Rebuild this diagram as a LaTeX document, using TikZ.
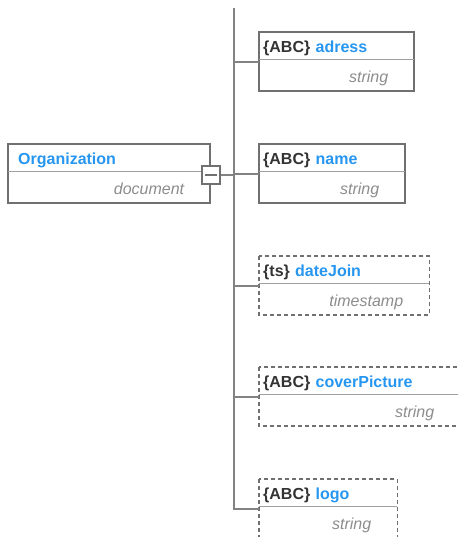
\documentclass[tikz,border=0pt]{standalone}
\usepackage{fontspec}
\setmainfont{Liberation Sans}
\usetikzlibrary{positioning}

\definecolor{fieldblue}{RGB}{38,150,240}
\definecolor{tagdark}{RGB}{51,51,51}
\definecolor{typegray}{RGB}{140,140,140}
\definecolor{framegray}{RGB}{112,112,112}
\definecolor{rulegray}{RGB}{160,160,160}
\definecolor{wiregray}{RGB}{130,130,130}

\newcommand\fieldhead[2]{\textcolor{tagdark}{\{#1\}} \textcolor{fieldblue}{#2}}

\begin{document}
\begin{tikzpicture}[x=1pt,y=-1pt,
  head/.style={anchor=north west,inner xsep=4pt,inner ysep=0pt,text height=20pt,text depth=7pt,align=left,font=\fontsize{16}{19}\selectfont\bfseries},
  body/.style={inner xsep=26pt,inner ysep=0pt,text height=23pt,text depth=8pt,align=right,text=typegray,font=\fontsize{16}{19}\selectfont\itshape},
  frame/.style={draw=framegray,line width=2pt},
  optional/.style={frame,line width=1.7pt,dash pattern=on 4pt off 3pt},
  divider/.style={draw=rulegray,line width=1.6pt},
  wire/.style={draw=wiregray,line width=2pt}]
\useasboundingbox (0,0) rectangle (458,537);
\clip (0,0) rectangle (458,537);

\node[head,inner xsep=10pt,text width=182pt] (org) at (8,144) {\textcolor{fieldblue}{Organization}};
\node[body,text width=150pt,below=0pt of org] (org-type) {document};
\node[head,text width=147pt] (adress) at (259,32) {\fieldhead{ABC}{adress}};
\node[body,text width=103pt,below=0pt of adress] (adress-type) {string};
\node[head,text width=138pt] (name) at (259,144) {\fieldhead{ABC}{name}};
\node[body,text width=94pt,below=0pt of name] (name-type) {string};
\node[head,text width=162pt] (dateJoin) at (259,256) {\fieldhead{ts}{dateJoin}};
\node[body,text width=118pt,below=0pt of dateJoin] (dateJoin-type) {timestamp};
\node[head,text width=193pt] (coverPicture) at (259,367) {\fieldhead{ABC}{coverPicture}};
\node[body,text width=149pt,below=0pt of coverPicture] (coverPicture-type) {string};
\node[head,text width=130pt] (logo) at (259,479) {\fieldhead{ABC}{logo}};
\node[body,text width=86pt,below=0pt of logo] (logo-type) {string};

% boxes
\foreach \f in {org,adress,name}
  \path[frame] (\f.north west) rectangle (\f-type.south east);
\foreach \f in {dateJoin,coverPicture,logo}
  \path[optional] (\f.north west) rectangle (\f-type.south east);
\foreach \f in {org,adress,name,dateJoin,coverPicture,logo}
  \path[divider] (\f.south west) -- (\f.south east);

% tree
\coordinate (top) at (233.5,8);
\foreach \f in {adress,name,dateJoin,coverPicture,logo}
  \path ([yshift=-2.5pt]\f-type.north west) coordinate (\f-in);
\path[wire] (top) |- (logo-in);
\foreach \f in {adress,name,dateJoin,coverPicture}
  \path[wire] (\f-in -| top) -- (\f-in);

\node[draw=framegray,line width=1.7pt,fill=white,minimum size=18pt,inner sep=0pt,
  path picture={\draw[framegray,line width=1.7pt] ([xshift=3pt]path picture bounding box.west) -- ([xshift=-3pt]path picture bounding box.east);}] (toggle) at (211,175) {};
\path[wire] (toggle.east) -- (toggle.east -| top);
\end{tikzpicture}
\end{document}
